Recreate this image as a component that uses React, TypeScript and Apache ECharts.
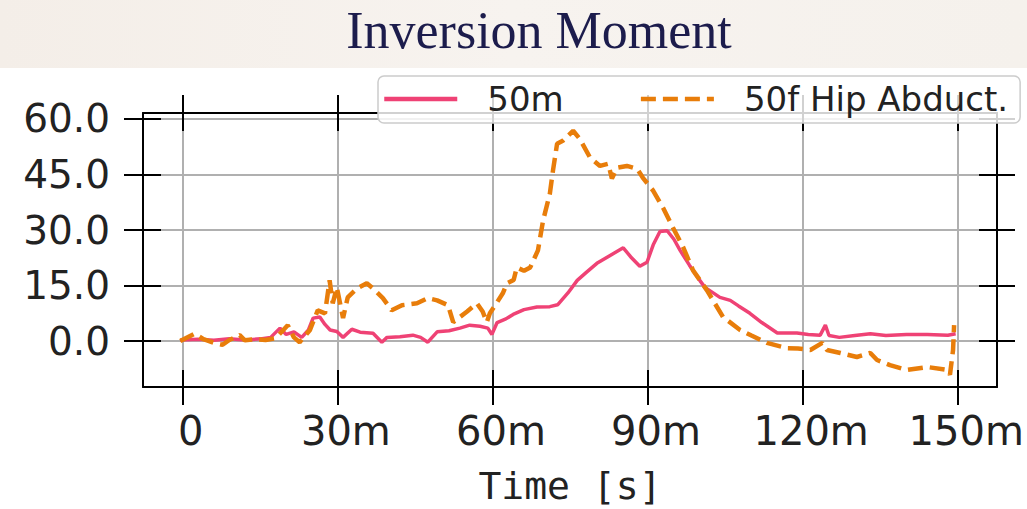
import React, { useEffect, useRef } from "react";
import * as echarts from "echarts";

const titleText = "Inversion Moment";
const seriesNames = ["50m", "50f Hip Abduct."];
const xAxisName = "Time [s]";

const xTicks = [0, 30, 60, 90, 120, 150];
const xTickLabels = ["0", "30m", "60m", "90m", "120m", "150m"];
const yTicks = [0, 15, 30, 45, 60];
const yTickLabels = ["0.0", "15.0", "30.0", "45.0", "60.0"];

const X_MIN = -7.7;
const X_MAX = 157.5;
const Y_MIN = -12.4;
const Y_MAX = 61.6;

// 50m (minutes, value)
const timeM = [
  -0.5, 3, 6, 9, 12, 15, 17, 18.8, 20, 21.5, 23, 24.3, 25.2, 26.5, 27.5, 28.5, 29.8, 31, 32.7, 34.3,
  36.8, 38.5, 39.5, 42, 44.5, 46, 47.4, 49.2, 51.5, 53.6, 55.5, 57.5, 59, 59.8, 60.8, 62.5, 63.9, 66,
  68.5, 71, 72.5, 74.5, 76.3, 78, 80.1, 82.5, 85.2, 86.8, 88.4, 89.8, 91, 92.3, 93.7, 95, 96.2, 98,
  100, 101, 103.9, 105.9, 107.5, 109.7, 112, 115, 118.8, 121, 123.3, 124.3, 125, 127, 130, 133, 136,
  140, 144, 148, 149.5,
];
const valM = [
  0.3, 0.5, 0.2, 0.6, 0.3, 0.6, 1.0, 3.5, 1.8, 2.5, 1.0, 3.0, 6.2, 6.5, 4.5, 3.0, 2.6, 1.0, 3.2, 2.4,
  2.1, -0.3, 1.0, 1.2, 1.6, 1.0, -0.3, 2.5, 2.8, 3.5, 4.3, 4.0, 3.5, 1.8, 5.0, 6.0, 7.2, 8.5, 9.2,
  9.3, 9.8, 13, 16.4, 18.5, 21, 23, 25.2, 22.5, 20.2, 21.3, 26, 29.6, 29.8, 27.5, 24.5, 20.5, 16.4,
  14.5, 11.8, 11.0, 9.5, 7.5, 5, 2.2, 2.2, 1.8, 1.6, 4.3, 1.5, 1.0, 1.5, 2.0, 1.5, 1.8, 1.8, 1.6, 2.0,
];

// 50f Hip Abduct. (minutes, value)
const timeF = [
  -0.5, 2.3, 4, 6, 7.7, 9, 11, 12, 14, 16, 18, 20.3, 21.5, 22.6, 24.6, 26.1, 27.5, 28.4, 29.0, 29.8,
  31.0, 31.9, 33.7, 35.6, 36.8, 38.7, 40.4, 42.4, 45.3, 47.4, 49.2, 51.3, 52.3, 53.6, 55, 56.9, 58.0,
  58.8, 59.4, 60.8, 61.9, 62.7, 64.0, 64.6, 66, 67.2, 68.7, 69.7, 71.0, 71.6, 72.4, 73.5, 75.5, 76.8,
  78.8, 80.7, 82.3, 83.0, 84.0, 85.9, 87.9, 89.0, 91.0, 92.9, 94.8, 96.8, 98.7, 101.4, 104.5, 107.8,
  110, 113, 116.9, 119, 121.4, 123.7, 124.6, 127.2, 130.4, 133, 134.3, 136.8, 140.1, 144, 147.9,
  148.4, 149.0, 149.2,
];
const valF = [
  0, 2.0, 0.5, -0.5, -1.0, 0.3, 1.6, 0.2, 0.5, 0.3, 0.8, 4.3, 1.0, -0.3, 3.0, 8.3, 7.5, 16.4, 10.2,
  14.5, 6.2, 11.8, 14.2, 15.6, 14.2, 11.6, 8.3, 9.7, 10.2, 11.6, 11.0, 9.7, 5.1, 6.5, 8, 10.2, 8, 5.1,
  7.5, 10.5, 12.9, 15.6, 16.5, 19.9, 19, 19.9, 24.5, 32.6, 39.8, 46.0, 53.3, 54.1, 56.8, 54.6, 49.5,
  47.3, 47.9, 43.9, 46.8, 47.3, 46.5, 44.1, 40.6, 36.0, 30.7, 25.3, 19.1, 13.7, 6.5, 3.0, 1.5, -0.5,
  -1.9, -2.0, -2.4, -0.5, -2.4, -3.2, -4.3, -3.2, -5.1, -6.5, -7.8, -7.0, -7.8, -9.1, -2.4, 4.3,
];

const zip = (xs: number[], ys: number[]) => xs.map((x, i) => [x, ys[i]]);

const BLACK = "#000000";
const GRID = "#b0b0b0";
const PINK = "#ef4275";
const ORANGE = "#e87d0a";

function hidden(extra: any) {
  return {
    type: "value",
    axisLine: { show: false, onZero: false },
    axisTick: { show: false },
    axisLabel: { show: false },
    splitLine: { show: false },
    ...extra,
  };
}

export default function App() {
  const ref = useRef<HTMLDivElement>(null);
  useEffect(() => {
    if (!ref.current) return;
    const chart = echarts.init(ref.current, undefined, { renderer: "svg" });
    const xFmt = (v: number) => {
      const i = xTicks.indexOf(v);
      return i >= 0 ? xTickLabels[i] : "";
    };
    const yFmt = (v: number) => {
      const i = yTicks.indexOf(v);
      return i >= 0 ? yTickLabels[i] : "";
    };
    const tickStyle = { color: BLACK, width: 2 };
    chart.setOption({
      animation: false,
      backgroundColor: "#ffffff",
      grid: { left: 143, right: 30, top: 113, bottom: 122, containLabel: false, outerBoundsMode: "none" },
      graphic: [
        {
          type: "rect",
          z: -10,
          shape: { x: 0, y: 0, width: 1027, height: 68 },
          style: {
            fill: new echarts.graphic.LinearGradient(0, 0, 1, 0, [
              { offset: 0, color: "#f4eee8" },
              { offset: 0.5, color: "#f7f3ef" },
              { offset: 1, color: "#f5f1ec" },
            ]),
          },
          silent: true,
        },
        {
          type: "text",
          z: 10,
          x: 539,
          y: 30,
          style: {
            text: titleText,
            fill: "#1c1c4c",
            font: "52px 'Liberation Serif', serif",
            lineHeight: 48,
            align: "center",
            verticalAlign: "middle",
          },
          silent: true,
        },
      ],
      legend: {
        left: 378,
        top: 76,
        padding: [6, 12, 7, 4],
        itemWidth: 73,
        itemHeight: 14,
        itemGap: 75,
        backgroundColor: "rgba(255,255,255,0.82)",
        borderColor: "#cccccc",
        borderWidth: 1.5,
        borderRadius: 6,
        itemStyle: { opacity: 0 },
        lineStyle: { width: 4.5 },
        textStyle: {
          fontSize: 34,
          fontFamily: "DejaVu Sans",
          color: "#222222",
          padding: [0, 0, 0, 25],
        },
        data: seriesNames,
      },
      xAxis: [
        {
          type: "value",
          min: X_MIN,
          max: X_MAX,
          position: "bottom",
          axisLine: { show: true, onZero: false, lineStyle: { color: BLACK, width: 2 } },
          axisTick: { show: true, customValues: xTicks, length: 18, lineStyle: tickStyle },
          axisLabel: {
            show: true,
            customValues: xTicks,
            formatter: xFmt,
            fontSize: 40,
            fontFamily: "DejaVu Sans",
            color: "#222222",
            margin: 24,
            padding: [0, 0, 0, 16],
          },
          splitLine: { show: true, lineStyle: { color: GRID, width: 2 } },
          name: xAxisName,
          nameLocation: "middle",
          nameGap: 80,
          nameTextStyle: { fontSize: 38, fontFamily: "DejaVu Sans Mono", color: "#222222" },
        },
        hidden({
          min: X_MIN,
          max: X_MAX,
          position: "bottom",
          axisTick: { show: true, inside: true, customValues: xTicks, length: 17, lineStyle: tickStyle },
        }),
        hidden({
          min: X_MIN,
          max: X_MAX,
          position: "top",
          axisLine: { show: true, onZero: false, lineStyle: { color: BLACK, width: 2 } },
          axisTick: { show: true, customValues: xTicks, length: 18, lineStyle: tickStyle },
        }),
        hidden({
          min: X_MIN,
          max: X_MAX,
          position: "top",
          axisTick: { show: true, inside: true, customValues: xTicks, length: 18, lineStyle: tickStyle },
        }),
      ],
      yAxis: [
        {
          type: "value",
          min: Y_MIN,
          max: Y_MAX,
          position: "left",
          axisLine: { show: true, onZero: false, lineStyle: { color: BLACK, width: 2 } },
          axisTick: { show: true, customValues: yTicks, length: 19, lineStyle: tickStyle },
          axisLabel: {
            show: true,
            customValues: yTicks,
            formatter: yFmt,
            fontSize: 39,
            fontFamily: "DejaVu Sans",
            color: "#222222",
            margin: 33,
          },
          splitLine: { show: true, lineStyle: { color: GRID, width: 2 } },
        },
        hidden({
          min: Y_MIN,
          max: Y_MAX,
          position: "left",
          axisTick: { show: true, inside: true, customValues: yTicks, length: 18, lineStyle: tickStyle },
        }),
        hidden({
          min: Y_MIN,
          max: Y_MAX,
          position: "right",
          axisLine: { show: true, onZero: false, lineStyle: { color: BLACK, width: 2 } },
          axisTick: { show: true, customValues: yTicks, length: 18, lineStyle: tickStyle },
        }),
        hidden({
          min: Y_MIN,
          max: Y_MAX,
          position: "right",
          axisTick: { show: true, inside: true, customValues: yTicks, length: 18, lineStyle: tickStyle },
        }),
      ],
      series: [
        {
          name: seriesNames[0],
          type: "line",
          xAxisIndex: 0,
          yAxisIndex: 0,
          symbol: "none",
          data: zip(timeM, valM),
          lineStyle: { color: PINK, width: 3.5 },
          itemStyle: { color: PINK },
          z: 3,
        },
        {
          name: seriesNames[1],
          type: "line",
          xAxisIndex: 0,
          yAxisIndex: 0,
          symbol: "none",
          data: zip(timeF, valF),
          lineStyle: { color: ORANGE, width: 4.5, type: [15, 7] },
          itemStyle: { color: ORANGE },
          z: 3,
        },
      ],
    });
    return () => chart.dispose();
  }, []);
  return (
    <div
      ref={ref}
      style={{ position: "absolute", left: 0, top: 0, width: 1027, height: 509, background: "#ffffff" }}
    />
  );
}
